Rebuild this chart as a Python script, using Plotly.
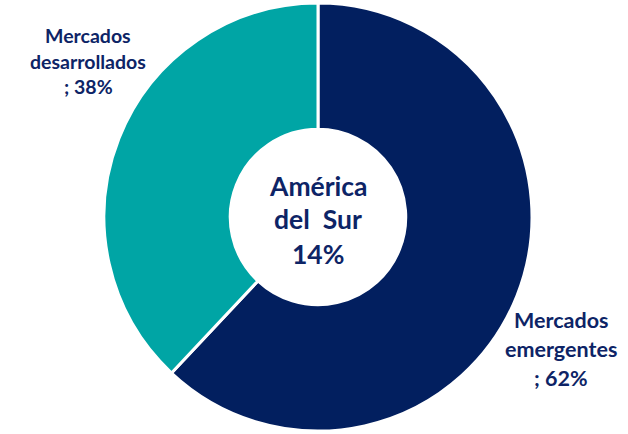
import plotly.graph_objects as go

categories = ["Mercados emergentes", "Mercados desarrollados"]
values = [62, 38]
colors = ["#021f5f", "#00a5a5"]
center_lines = ["América", "del  Sur", "14%"]

W, H = 628, 434
FONT = "Lato"
TXT = "#0d2466"

fig = go.Figure()
fig.add_trace(go.Pie(
    labels=categories, values=values, hole=0.41, sort=False,
    direction="clockwise", rotation=0,
    marker=dict(colors=colors, line=dict(color="white", width=3)),
    textinfo="none", hoverinfo="label+percent", showlegend=False,
    domain=dict(x=[104 / W, 532 / W], y=[3 / H, 431 / H]),
))

def add_lines(lines, cx, ys, size):
    for t, y in zip(lines, ys):
        fig.add_annotation(x=cx / W, y=1 - y / H, xref="paper", yref="paper",
                           text="<b>%s</b>" % t, showarrow=False,
                           xanchor="center", yanchor="middle",
                           font=dict(family=FONT, size=size, color=TXT))

pct = [round(v / sum(values) * 100) for v in values]
add_lines(["Mercados", "desarrollados", "; %d%%" % pct[1]], 88, [35, 61, 87], 19.5)
add_lines(["Mercados", "emergentes", "; %d%%" % pct[0]], 561, [320, 349, 378], 21.5)
add_lines(center_lines, 318, [186, 219, 254], 26.5)

fig.update_layout(width=W, height=H, margin=dict(l=0, r=0, t=0, b=0),
                  paper_bgcolor="white", plot_bgcolor="white")
fig.write_html("out.html", config={"displayModeBar": False},
               post_script="document.body.style.margin='0';document.body.style.padding='0';")
